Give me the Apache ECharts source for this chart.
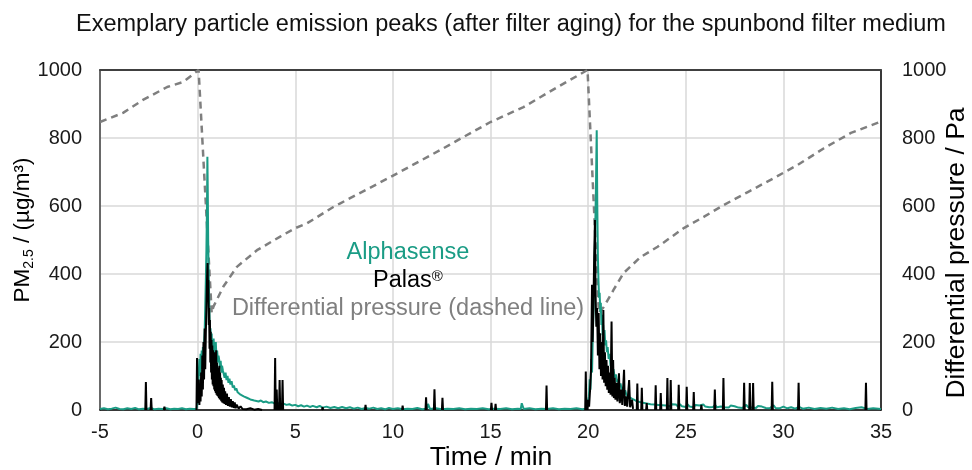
<!DOCTYPE html>
<html>
<head>
<meta charset="utf-8">
<script src="https://cdn.jsdelivr.net/npm/echarts@6/dist/echarts.min.js"></script>
<style>html,body{margin:0;padding:0;background:#fff}#c{width:972px;height:470px}</style>
</head>
<body>
<div id="c"></div>
<script>
// ---- data (time in min, values) ----
const xTicks = { min: -5, max: 35, interval: 5 };
const yTicks = { min: 0, max: 1000, interval: 200 };

const titleText = 'Exemplary particle emission peaks (after filter aging) for the spunbond filter medium';

// Differential pressure / Pa (right axis)
const pressure = [[-5,847],[-3.82,874],[-2.8,912],[-1.56,950],[-0.74,965],[0.05,1000],[0.47,552],[0.72,285],[0.81,304],[1.32,363],[2.01,421],[3.04,470],[4.23,510],[5.0,535],[5.6,549],[6.95,597],[7.31,608],[9.87,685],[12.44,765],[13.62,803],[15.0,847],[16.69,891],[18.44,950],[19.97,1000],[20.55,285],[20.8,303],[21.3,353],[21.82,403],[22.69,450],[23.56,480],[24.9,535],[25.92,568],[26.95,603],[28.18,641],[29.51,682],[30.74,721],[32.08,770],[33.46,815],[34.85,845],[35,848]];

// Alphasense PM2.5
const alphasense = [[-5,3],[-4.8,5],[-4.6,2],[-4.4,4],[-4.2,7],[-4.0,3],[-3.8,2],[-3.6,5],[-3.4,3],[-3.2,6],[-3.0,2],[-2.8,4],[-2.6,3],[-2.4,6],[-2.2,2],[-2.0,4],[-1.8,3],[-1.6,5],[-1.4,2],[-1.2,4],[-1.0,3],[-0.8,5],[-0.6,2],[-0.4,4],[-0.2,3],[-0.05,4],
[0.0,5],[0.03,40],[0.06,110],[0.09,150],[0.12,100],[0.15,165],[0.18,120],[0.21,175],[0.24,135],[0.27,185],[0.3,150],[0.33,200],[0.36,230],[0.39,300],[0.42,380],[0.45,470],[0.48,600],[0.5,745],[0.52,640],[0.54,500],[0.56,420],[0.58,360],[0.6,300],[0.62,250],[0.64,215],[0.66,240],[0.69,190],[0.72,225],[0.74,175],[0.77,200],[0.8,180],[0.82,210],[0.85,165],[0.88,190],[0.9,150],[0.93,200],[0.96,160],[1.0,175],[1.04,140],[1.07,160],[1.1,150],[1.14,125],[1.18,145],[1.22,110],[1.25,130],[1.3,115],[1.34,120],[1.38,95],[1.43,110],[1.48,88],[1.53,100],[1.58,80],[1.63,92],[1.68,75],[1.74,85],[1.8,66],[1.86,72],[1.92,58],[1.98,64],[2.05,52],[2.12,56],[2.2,45],[2.28,49],[2.36,40],[2.44,44],[2.52,36],[2.6,38],[2.7,31],[2.8,34],[2.9,28],[3.0,30],[3.12,25],[3.24,28],[3.36,23],[3.5,25],[3.65,21],[3.8,23],[3.95,19],[4.1,21],[4.25,17],[4.4,19],[4.55,15],[4.7,17],[4.85,13],[5.0,15],
[5.15,11],[5.3,14],[5.45,10],[5.6,13],[5.75,9],[5.9,12],[6.1,8],[6.25,12],[6.4,7],[6.6,10],[6.8,6],[7.0,9],[7.2,5],[7.4,9],[7.6,5],[7.8,8],[8.0,4],[8.2,7],[8.4,3],[8.6,6],[8.8,4],[9.0,7],[9.2,3],[9.4,5],[9.6,2],[9.8,6],[10.0,3],[10.25,5],[10.5,2],[10.75,4],[11.0,3],[11.25,6],[11.5,2],[11.75,4],[11.8,18],[11.9,3],[12.2,5],[12.5,2],[12.8,4],[13.1,3],[13.4,5],[13.7,2],[14.0,4],[14.3,3],[14.6,5],[14.9,2],[15.2,4],[15.5,3],[15.8,5],[16.1,2],[16.4,4],[16.55,3],[16.6,20],[16.7,3],[17.0,5],[17.3,2],[17.6,4],[17.9,3],[18.2,5],[18.5,2],[18.8,4],[19.1,3],[19.4,5],[19.7,2],[19.9,4],
[20.0,8],[20.04,40],[20.08,90],[20.12,60],[20.16,150],[20.2,110],[20.24,220],[20.28,300],[20.32,420],[20.36,520],[20.4,650],[20.44,823],[20.47,600],[20.5,450],[20.53,380],[20.56,330],[20.59,345],[20.62,290],[20.65,315],[20.68,250],[20.71,280],[20.74,220],[20.77,250],[20.8,210],[20.84,235],[20.88,190],[20.92,205],[20.96,170],[21.0,185],[21.05,150],[21.1,165],[21.15,130],[21.2,145],[21.25,110],[21.3,120],[21.36,95],[21.42,105],[21.48,82],[21.54,90],[21.6,70],[21.66,78],[21.72,60],[21.78,68],[21.84,52],[21.9,58],[21.96,45],[22.02,50],[22.1,38],[22.18,43],[22.26,33],[22.34,37],[22.42,28],[22.5,32],[22.6,24],[22.7,29],[22.8,21],[22.9,26],[23.0,19],[23.1,24],[23.2,17],[23.3,22],[23.4,16],[23.5,21],[23.6,15],[23.7,20],[23.8,14],[23.9,19],
[24.0,13],[24.1,18],[24.2,11],[24.3,17],[24.4,12],[24.5,16],[24.6,10],[24.7,17],[24.8,11],[24.9,15],[25.0,9],[25.1,16],[25.2,10],[25.3,14],[25.4,8],[25.5,15],[25.6,10],[25.7,13],[25.8,9],[25.9,16],[26.0,10],[26.1,14],[26.2,8],[26.3,13],[26.4,9],[26.5,15],[26.6,8],[26.7,12],[26.8,10],[26.9,14],[27.0,8],[27.1,12],[27.2,7],[27.3,13],[27.4,8],[27.5,11],[27.6,13],[27.7,7],[27.8,10],[27.9,6],[28.0,11],[28.1,15],[28.2,8],[28.3,12],[28.4,7],[28.5,11],[28.6,6],[28.7,12],[28.8,7],[28.9,10],[29.0,13],[29.1,6],[29.2,9],[29.3,5],[29.4,10],[29.5,14],[29.6,6],[29.7,9],[29.8,5],[30.0,10],[30.2,5],[30.4,8],[30.6,4],[30.8,9],[31.0,4],[31.3,7],[31.6,3],[31.9,6],[32.2,4],[32.5,7],[32.8,3],[33.1,5],[33.4,2],[33.7,6],[34.0,8],[34.3,3],[34.6,5],[35.0,3]];

// Palas PM2.5: dense emission segments
const palasPeak1 = [[-0.06,0],[-0.03,153],[0.0,60],[0.03,20],[0.06,90],[0.09,15],[0.12,70],[0.15,25],[0.18,110],[0.21,40],[0.24,160],[0.27,60],[0.3,200],[0.33,90],[0.36,240],[0.39,120],[0.42,226],[0.45,300],[0.48,380],[0.51,432],[0.53,330],[0.55,382],[0.57,250],[0.59,300],[0.61,180],[0.63,265],[0.65,140],[0.67,230],[0.69,110],[0.71,206],[0.73,90],[0.75,190],[0.77,75],[0.79,176],[0.81,70],[0.83,160],[0.85,60],[0.87,170],[0.89,55],[0.91,150],[0.93,50],[0.95,176],[0.97,45],[0.99,140],[1.01,42],[1.03,125],[1.05,40],[1.07,118],[1.09,35],[1.11,130],[1.13,32],[1.15,110],[1.17,30],[1.19,95],[1.21,26],[1.23,88],[1.26,22],[1.29,75],[1.32,20],[1.35,65],[1.38,18],[1.41,55],[1.45,15],[1.5,48],[1.55,12],[1.6,38],[1.65,10],[1.7,32],[1.75,8],[1.8,26],[1.85,6],[1.9,22],[1.95,5],[2.0,16],[2.1,4],[2.2,11],[2.3,3],[2.4,8],[2.5,2],[2.7,5],[2.9,1],[3.1,3],[3.3,0]];
const palasPeak2 = [[19.97,0],[20.0,30],[20.05,10],[20.1,60],[20.15,120],[20.2,368],[20.23,200],[20.27,300],[20.31,450],[20.35,559],[20.38,344],[20.42,245],[20.46,300],[20.5,160],[20.54,285],[20.58,120],[20.62,226],[20.66,100],[20.7,200],[20.74,90],[20.78,294],[20.82,80],[20.86,170],[20.9,70],[20.94,147],[20.98,60],[21.02,130],[21.06,50],[21.1,110],[21.15,45],[21.2,260],[21.24,40],[21.28,147],[21.32,35],[21.36,95],[21.4,30],[21.45,80],[21.5,25],[21.58,108],[21.62,20],[21.7,60],[21.75,15],[21.84,118],[21.88,12],[21.95,40],[22.0,10],[22.1,88],[22.15,8],[22.25,30],[22.3,3]];
// Palas PM2.5: isolated short peaks [time, value]
const palasSpikes = [[-2.65,82],[-2.38,35],[-1.7,10],[3.97,153],[4.05,60],[4.2,88],[4.35,88],[6.4,8],[8.6,15],[10.5,13],[11.7,37],[12.13,61],[12.54,36],[15.05,21],[15.26,18],[17.87,72],[19.88,113],[22.52,78],[22.75,65],[23.0,20],[23.46,73],[23.72,50],[24.06,94],[24.23,88],[24.64,74],[25.05,68],[25.41,53],[25.8,15],[26.49,60],[26.93,94],[27.99,80],[28.28,79],[28.45,79],[29.43,83],[30.78,80],[34.23,80]];

// build line data (null = no emission recorded between events)
function buildPalas() {
  const pts = [];
  const segs = palasSpikes.map(s => [[s[0] - 0.03, 0], s, [s[0] + 0.03, 0]]);
  segs.push(palasPeak1, palasPeak2);
  segs.sort((a, b) => a[0][0] - b[0][0]);
  segs.forEach(seg => { seg.forEach(p => pts.push(p)); pts.push([seg[seg.length - 1][0] + 0.005, null]); });
  return pts;
}

// ---- chart ----
const FONT = 'Liberation Sans, Arial, sans-serif';
const TEAL = '#1a9c85';
const chart = echarts.init(document.getElementById('c'), null, { renderer: 'canvas' });

const axisLabel = { fontSize: 20, fontFamily: FONT, color: '#1a1a1a' };
const split = { show: true, lineStyle: { color: '#d9d9d9', width: 1.5 } };

chart.setOption({
  animation: false,
  backgroundColor: '#fff',
  grid: { left: 100, right: 91, top: 70, bottom: 60 },
  xAxis: [
    { type: 'value', min: xTicks.min, max: xTicks.max, interval: xTicks.interval,
      axisLine: { show: true, onZero: false, lineStyle: { color: '#000', width: 1.5 } }, axisTick: { show: false },
      axisLabel: Object.assign({ margin: 12 }, axisLabel),
      splitLine: split },
    { type: 'value', position: 'top', min: xTicks.min, max: xTicks.max, interval: xTicks.interval,
      axisLine: { show: true, onZero: false, lineStyle: { color: '#404040', width: 2 } }, axisTick: { show: false },
      axisLabel: { show: false }, splitLine: { show: false } }
  ],
  yAxis: [
    { type: 'value', min: yTicks.min, max: yTicks.max, interval: yTicks.interval,
      axisLine: { show: true, onZero: false, lineStyle: { color: '#404040', width: 1.5 } }, axisTick: { show: false },
      axisLabel: Object.assign({ margin: 18, formatter: v => String(v) }, axisLabel), splitLine: split },
    { type: 'value', min: yTicks.min, max: yTicks.max, interval: yTicks.interval, position: 'right',
      axisLine: { show: true, onZero: false, lineStyle: { color: '#000', width: 1.5 } }, axisTick: { show: false },
      axisLabel: Object.assign({ margin: 21, formatter: v => String(v) }, axisLabel), splitLine: { show: false } }
  ],
  series: [
    { name: 'Differential pressure', type: 'line', yAxisIndex: 1, data: pressure, showSymbol: false, z: 2,
      lineStyle: { color: '#7f7f7f', width: 2.5, type: [7, 5] } },
    { name: 'Alphasense', type: 'line', data: alphasense, showSymbol: false, z: 3,
      lineStyle: { color: TEAL, width: 2 } },
    { name: 'Palas', type: 'line', data: buildPalas(), showSymbol: false, connectNulls: false, z: 4,
      lineStyle: { color: '#000', width: 2 } }
  ],
  graphic: [
    { type: 'text', x: 511, y: 25, z: 10,
      style: { text: titleText, fontSize: 23.5, fontFamily: FONT, fill: '#111', align: 'center', verticalAlign: 'middle' } },
    { type: 'text', x: 408, y: 253, z: 10,
      style: { text: 'Alphasense', fontSize: 23.5, fontFamily: FONT, fill: TEAL, align: 'center', verticalAlign: 'middle' } },
    { type: 'text', x: 408, y: 281, z: 10,
      style: { text: '{p|Palas}{r|®}', align: 'center', verticalAlign: 'middle',
        rich: { p: { fontSize: 23.5, fontFamily: FONT, color: '#000' }, r: { fontSize: 15, fontFamily: FONT, color: '#000', verticalAlign: 'top' } } } },
    { type: 'text', x: 408, y: 309, z: 10,
      style: { text: 'Differential pressure (dashed line)', fontSize: 23.5, fontFamily: FONT, fill: '#7f7f7f', align: 'center', verticalAlign: 'middle' } },
    { type: 'text', x: 491, y: 458, z: 10,
      style: { text: 'Time / min', fontSize: 26.5, fontFamily: FONT, fill: '#000', align: 'center', verticalAlign: 'middle' } },
    { type: 'text', x: 23, y: 230, rotation: Math.PI / 2, z: 10,
      style: { text: '{a|PM}{s|2.5}{a| / (µg/m³)}', align: 'center', verticalAlign: 'middle',
        rich: { a: { fontSize: 22.5, fontFamily: FONT, color: '#000', lineHeight: 27 }, s: { fontSize: 14, fontFamily: FONT, color: '#000', verticalAlign: 'bottom' } } } },
    { type: 'text', x: 957, y: 253, rotation: Math.PI / 2, z: 10,
      style: { text: 'Differential pressure / Pa', fontSize: 26.5, fontFamily: FONT, fill: '#000', align: 'center', verticalAlign: 'middle' } }
  ]
});
</script>
</body>
</html>
